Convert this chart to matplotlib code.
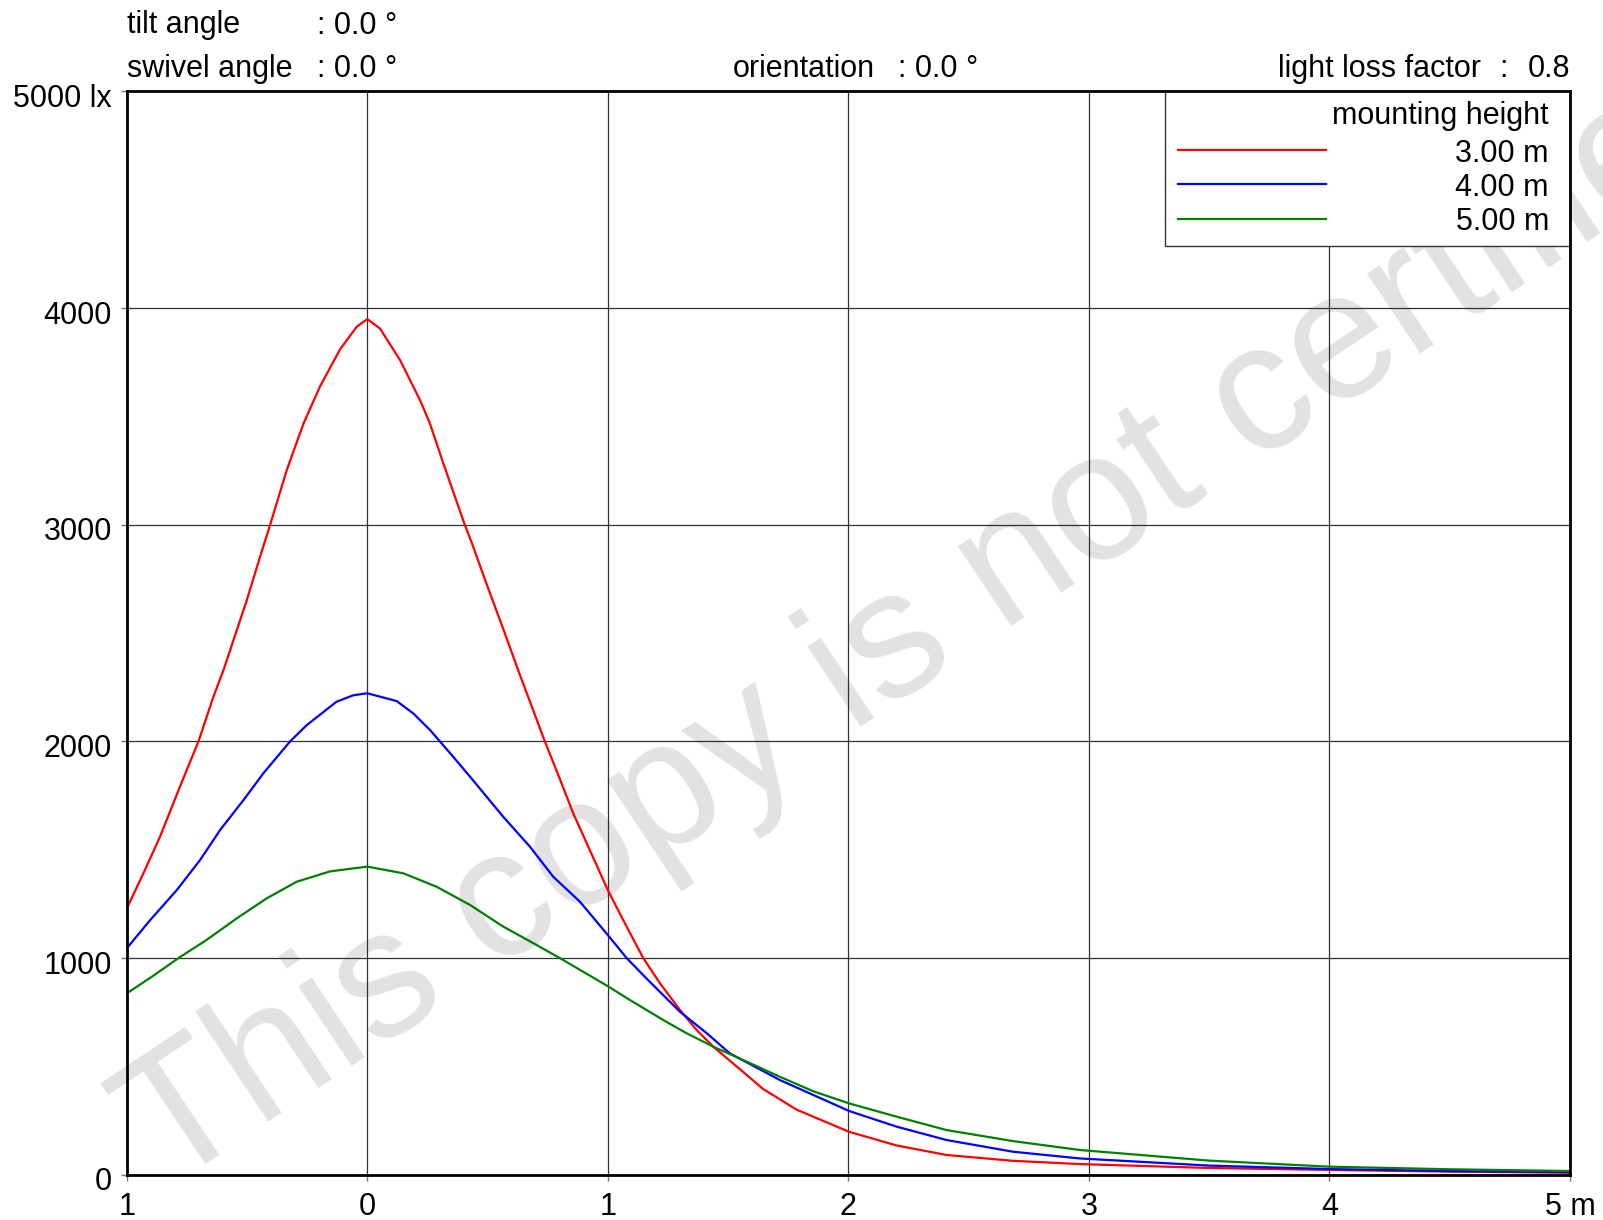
import matplotlib
matplotlib.use("Agg")
import matplotlib.pyplot as plt
from matplotlib.patches import Rectangle
from matplotlib.transforms import ScaledTranslation

plt.rc('font', family='Liberation Sans', size=22)

# distance from luminaire axis (m) and illuminance (lx)
x_3m = [-1.0, -0.931, -0.862, -0.779, -0.702, -0.640, -0.598, -0.501, -0.446, -0.404,
        -0.335, -0.265, -0.196, -0.113, -0.044, 0.0, 0.053, 0.136, 0.219, 0.260,
        0.316, 0.405, 0.435, 0.495, 0.565, 0.627, 0.738, 0.802, 0.856, 1.003,
        1.078, 1.147, 1.217, 1.300, 1.369, 1.438, 1.535, 1.646,
        1.785, 2.003, 2.200, 2.408, 2.685, 2.962, 3.5, 4.0, 4.5, 5.0]
e_3m = [1229, 1391, 1560, 1791, 2000, 2206, 2329, 2652, 2852, 3000,
        3252, 3468, 3640, 3810, 3914, 3949, 3905, 3760, 3575, 3468,
        3283, 3000, 2914, 2729, 2519, 2329, 2000, 1822, 1668, 1306,
        1145, 1000, 883, 760, 668, 591, 500, 395,
        300, 198, 135, 91, 64, 49, 31, 22, 14, 9]

x_4m = [-1.0, -0.903, -0.792, -0.695, -0.612, -0.515, -0.432, -0.321, -0.252, -0.128,
        -0.058, 0.0, 0.122, 0.191, 0.261, 0.357, 0.427, 0.565, 0.676,
        0.773, 0.884, 1.003, 1.078, 1.161, 1.300, 1.411, 1.507, 1.715, 1.854,
        2.003, 2.200, 2.408, 2.685, 2.962, 3.5, 4.0, 4.5, 5.0]
e_4m = [1045, 1175, 1314, 1453, 1591, 1729, 1853, 2000, 2075, 2183,
        2213, 2222, 2186, 2129, 2052, 1929, 1837, 1652, 1514,
        1375, 1260, 1102, 1000, 905, 752, 653, 560, 437, 368,
        294, 222, 160, 106, 75, 42, 26, 17, 12]

x_5m = [-1.0, -0.890, -0.785, -0.669, -0.543, -0.419, -0.294, -0.155, 0.0, 0.150,
        0.288, 0.427, 0.565, 0.704, 0.800, 1.003, 1.092, 1.230, 1.327, 1.438,
        1.577, 1.715, 1.854, 2.003, 2.200, 2.408, 2.685, 2.962, 3.5, 4.0,
        4.5, 5.0]
e_5m = [837, 918, 1000, 1083, 1183, 1275, 1352, 1400, 1422, 1391,
        1329, 1245, 1145, 1060, 1000, 868, 806, 714, 653, 591,
        522, 452, 385, 329, 268, 206, 155, 114, 65, 37,
        25, 17]

heights = ['3.00 m', '4.00 m', '5.00 m']
colors = ['#ff0000', '#0000ff', '#008000']

x_ticks = [-1, 0, 1, 2, 3, 4, 5]
x_labels = ['1', '0', '1', '2', '3', '4', '5 m']
y_ticks = [0, 1000, 2000, 3000, 4000, 5000]
y_labels = ['0', '1000', '2000', '3000', '4000', '5000 lx']

W, H = 1603, 1220
fig = plt.figure(figsize=(W / 100, H / 100), dpi=100)

# axes box in pixels: left 126.8, right 1570, top 91.4, bottom 1174.7
ax = fig.add_axes([126.8 / W, 1 - 1174.7 / H, (1570 - 126.8) / W, (1174.7 - 91.4) / H])
ax.set_facecolor('none')

# watermark behind everything
fig.text(946 / W, 1 - 613 / H, 'This copy is not certified', fontsize=130,
         color='#e2e2e2', rotation=33.7, rotation_mode='anchor',
         ha='center', va='center', zorder=-1)

for xs, es, c in zip([x_3m, x_4m, x_5m], [e_3m, e_4m, e_5m], colors):
    ax.plot(xs, es, color=c, linewidth=1.6, zorder=3)

ax.set_xlim(-1, 5)
ax.set_ylim(0, 5000)
ax.set_xticks(x_ticks)
ax.set_xticklabels(x_labels)
ax.set_yticks(y_ticks)
ax.set_yticklabels(y_labels)
ax.grid(True, color='#303030', linewidth=0.9, zorder=1)
ax.set_axisbelow(True)
ax.tick_params(direction='out', length=4.3, width=1, color='#777777', labelsize=22)
ax.tick_params(axis='y', pad=6.5)
ax.tick_params(axis='x', pad=8)
for lbl in ax.get_yticklabels():
    lbl.set_transform(lbl.get_transform() + ScaledTranslation(0, -0.04, fig.dpi_scale_trans))
for s in ax.spines.values():
    s.set_linewidth(2)
    s.set_color('black')
    s.set_zorder(5)

# legend box drawn by hand, to match the original placement
ax.add_patch(Rectangle((0.7197, 0.8569), 0.2803, 0.1431, transform=ax.transAxes,
                       facecolor='white', edgecolor='#333333', linewidth=1, zorder=4))
ax.text(0.9854, 0.9806, 'mounting height', transform=ax.transAxes, ha='right',
        va='center_baseline', fontsize=22, zorder=6)
for yl, lab, c in zip([0.9456, 0.9145, 0.8824], heights, colors):
    ax.plot([0.7282, 0.8310], [yl, yl], transform=ax.transAxes, color=c,
            linewidth=1.6, zorder=6, clip_on=False)
    ax.text(0.9854, yl, lab, transform=ax.transAxes, ha='right',
            va='center_baseline', fontsize=22, zorder=6)

# header lines
def head(x, y, s, ha='left'):
    fig.text(x / W, 1 - y / H, s, ha=ha, va='baseline', fontsize=22)

head(127, 33.5, 'tilt angle')
head(317, 33.5, ': 0.0 °')
head(127, 76.7, 'swivel angle')
head(317, 76.7, ': 0.0 °')
head(733, 76.7, 'orientation')
head(898, 76.7, ': 0.0 °')
head(1278, 76.7, 'light loss factor')
head(1499, 76.7, ':')
head(1570, 76.7, '0.8', ha='right')

fig.savefig('out.png', dpi=100)
